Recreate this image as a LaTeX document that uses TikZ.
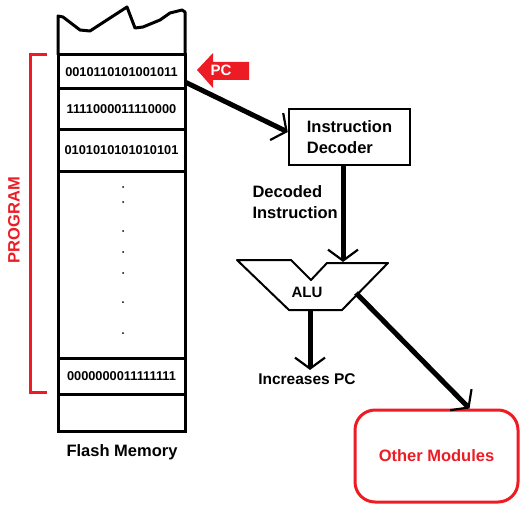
\documentclass[tikz,border=0pt]{standalone}
\usepackage{fontspec}
\setmainfont{Liberation Sans}
\usetikzlibrary{arrows.meta}
\definecolor{pred}{RGB}{237,28,36}

\begin{document}
\begin{tikzpicture}[x=1pt,y=-1pt,
        cell/.style={draw,line width=3pt,minimum width=127pt,inner sep=0pt,outer sep=0pt,font=\bfseries\fontsize{12.8}{14}\selectfont},
        lbl/.style={font=\bfseries\fontsize{16.5}{21}\selectfont},
        flow/.style={line width=5pt,-{Straight Barb[length=11pt,width=30pt,line width=2.2pt]}}]
            \useasboundingbox (0,0) rectangle (529,513);
            % flash memory
            \draw[line width=3pt,line join=round] (58,55) -- (58,16) -- (63,17) -- (80,30) -- (90,31) -- (110,18) -- (127,7) -- (135,28) -- (143,27) -- (160,20) -- (170,13) -- (182,10) -- (185,12) -- (185,55);
            \node[cell,minimum height=34pt] (r1) at (121.5,72) {0010110101001011};
            \node[cell,minimum height=41pt] (r2) at (121.5,109.5) {1111000011110000};
            \node[cell,minimum height=41pt] (r3) at (121.5,150.5) {0101010101010101};
            \node[cell,minimum height=187pt] (gap) at (121.5,264.5) {};
            \node[cell,minimum height=36pt] (r4) at (121.5,376) {0000000011111111};
            \node[cell,minimum height=37pt] (r5) at (121.5,412.5) {};
            \foreach \y in {187,202,231,252,273,302,333}
                \fill (123,\y) circle (1pt);
            \node[lbl] (flash) at (122,452) {Flash Memory};
            % program bracket
            \draw[pred,line width=3pt] (47,55) -- (30,55) -- (30,392) -- (47,392);
            \node[lbl,pred,rotate=90] (prog) at (14,220) {PROGRAM};
            % program counter
            \fill[pred] (197,70) -- (213,53) -- (213,62) -- (249,62) -- (249,80) -- (213,80) -- (213,88) -- cycle;
            \node[font=\bfseries\fontsize{15}{16}\selectfont,white] (pc) at (221,70) {PC};
            % decoder
            \node[draw,line width=2.5pt,minimum width=121pt,minimum height=56pt,align=left,lbl] (dec) at (349.5,137) {Instruction\\Decoder};
            \node[lbl,align=left,anchor=west] (decd) at (249,202.5) {Decoded\\Instruction};
            \draw[flow] ([yshift=-10pt]r1.east) -- ([yshift=5pt]dec.west);
            % alu
            \draw[line width=2pt,line join=round] (237,260) -- (291,260) -- (311,280) -- (327,263) -- (388,263) -- (342,310) -- (289,310) -- cycle;
            \node[font=\bfseries\fontsize{15}{17}\selectfont] (alu) at (307,292) {ALU};
            \coordinate (alut) at (343,262);
            \coordinate (alub) at (310,310);
            \coordinate (alur) at (356,293);
            \draw[flow] ([xshift=-6.5pt]dec.south) -- (alut);
            \node[font=\bfseries\fontsize{15.5}{18}\selectfont] (inc) at (307,379) {Increases PC};
            \draw[flow] (alub) -- (alub |- inc.north);
            % other modules
            \node[draw=pred,line width=3pt,rounded corners=20pt,minimum width=163pt,minimum height=92pt,font=\bfseries\fontsize{16.5}{19}\selectfont,text=pred] (oth) at (436.5,456) {Other Modules};
            \draw[flow] (alur) -- ([xshift=33pt]oth.north);
        \end{tikzpicture}
\end{document}
